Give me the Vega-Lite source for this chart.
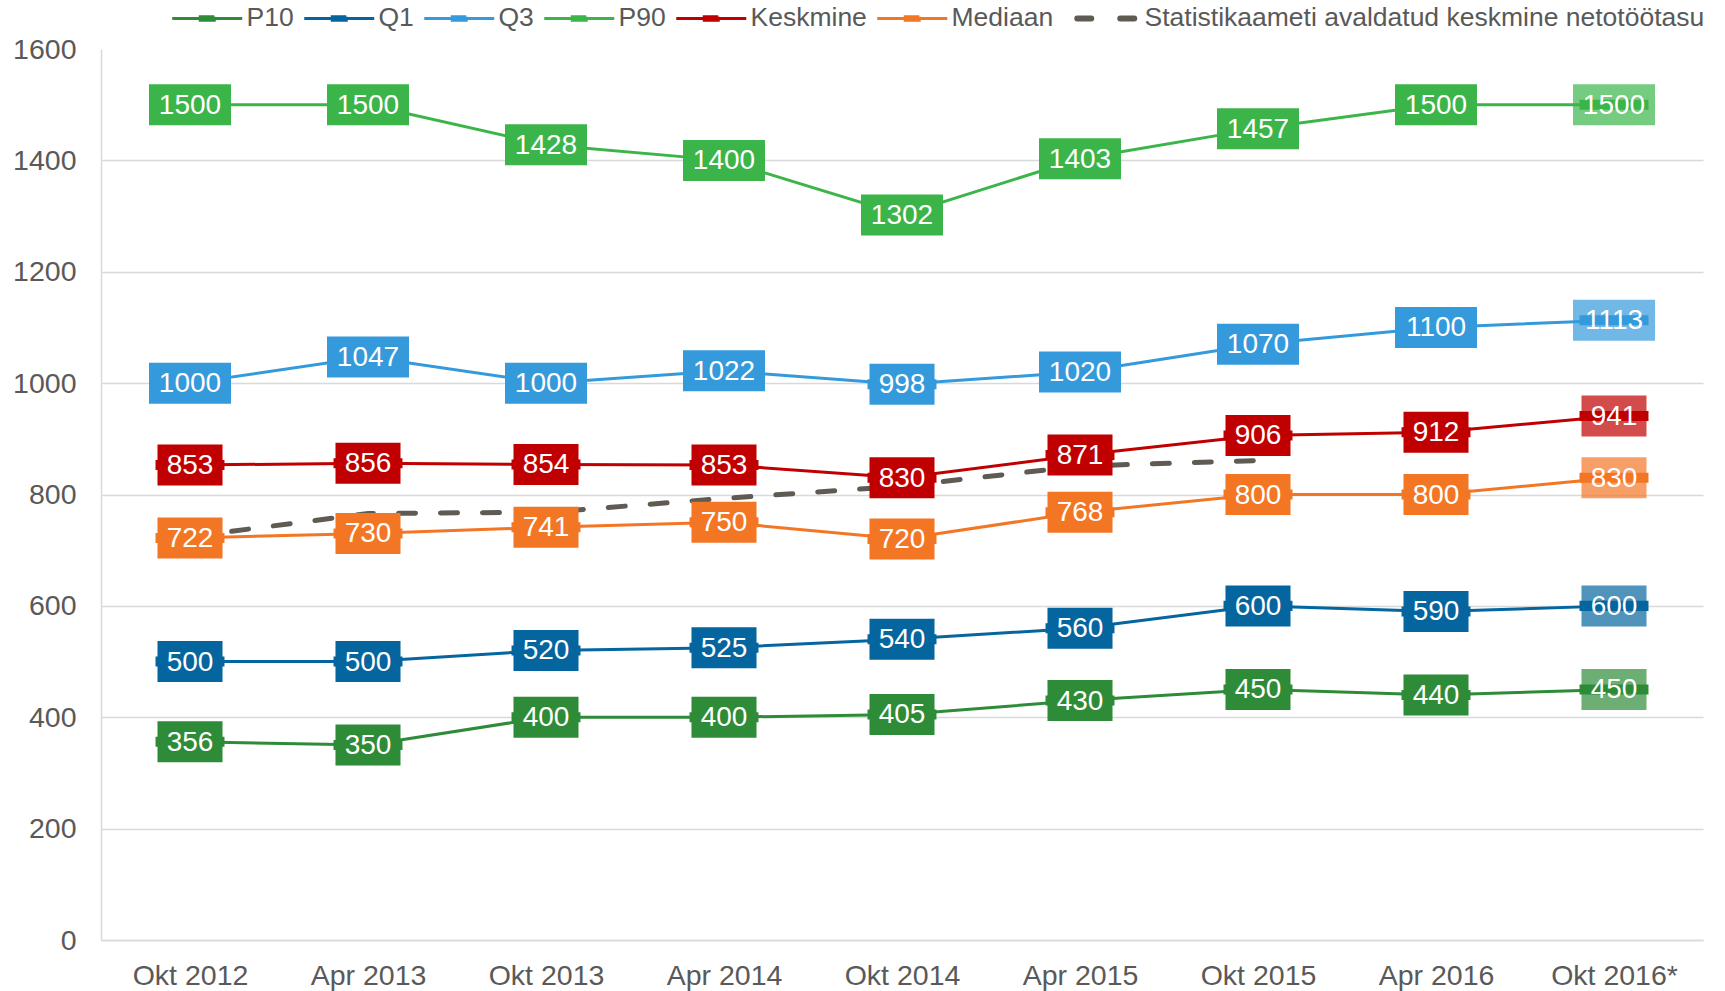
{
  "$schema": "https://vega.github.io/schema/vega-lite/v6.json",
  "width": 1602,
  "height": 891,
  "autosize": {"type": "none"},
  "padding": {"left": 101, "top": 49, "right": 22, "bottom": 51},
  "background": "white",
  "config": {
    "font": "Liberation Sans",
    "view": {"stroke": null}
  },
  "data": {
    "values": [
      {"period": "Okt 2012", "series": "P10", "value": 356},
      {"period": "Apr 2013", "series": "P10", "value": 350},
      {"period": "Okt 2013", "series": "P10", "value": 400},
      {"period": "Apr 2014", "series": "P10", "value": 400},
      {"period": "Okt 2014", "series": "P10", "value": 405},
      {"period": "Apr 2015", "series": "P10", "value": 430},
      {"period": "Okt 2015", "series": "P10", "value": 450},
      {"period": "Apr 2016", "series": "P10", "value": 440},
      {"period": "Okt 2016*", "series": "P10", "value": 450},
      {"period": "Okt 2012", "series": "Q1", "value": 500},
      {"period": "Apr 2013", "series": "Q1", "value": 500},
      {"period": "Okt 2013", "series": "Q1", "value": 520},
      {"period": "Apr 2014", "series": "Q1", "value": 525},
      {"period": "Okt 2014", "series": "Q1", "value": 540},
      {"period": "Apr 2015", "series": "Q1", "value": 560},
      {"period": "Okt 2015", "series": "Q1", "value": 600},
      {"period": "Apr 2016", "series": "Q1", "value": 590},
      {"period": "Okt 2016*", "series": "Q1", "value": 600},
      {"period": "Okt 2012", "series": "Q3", "value": 1000},
      {"period": "Apr 2013", "series": "Q3", "value": 1047},
      {"period": "Okt 2013", "series": "Q3", "value": 1000},
      {"period": "Apr 2014", "series": "Q3", "value": 1022},
      {"period": "Okt 2014", "series": "Q3", "value": 998},
      {"period": "Apr 2015", "series": "Q3", "value": 1020},
      {"period": "Okt 2015", "series": "Q3", "value": 1070},
      {"period": "Apr 2016", "series": "Q3", "value": 1100},
      {"period": "Okt 2016*", "series": "Q3", "value": 1113},
      {"period": "Okt 2012", "series": "P90", "value": 1500},
      {"period": "Apr 2013", "series": "P90", "value": 1500},
      {"period": "Okt 2013", "series": "P90", "value": 1428},
      {"period": "Apr 2014", "series": "P90", "value": 1400},
      {"period": "Okt 2014", "series": "P90", "value": 1302},
      {"period": "Apr 2015", "series": "P90", "value": 1403},
      {"period": "Okt 2015", "series": "P90", "value": 1457},
      {"period": "Apr 2016", "series": "P90", "value": 1500},
      {"period": "Okt 2016*", "series": "P90", "value": 1500},
      {"period": "Okt 2012", "series": "Keskmine", "value": 853},
      {"period": "Apr 2013", "series": "Keskmine", "value": 856},
      {"period": "Okt 2013", "series": "Keskmine", "value": 854},
      {"period": "Apr 2014", "series": "Keskmine", "value": 853},
      {"period": "Okt 2014", "series": "Keskmine", "value": 830},
      {"period": "Apr 2015", "series": "Keskmine", "value": 871},
      {"period": "Okt 2015", "series": "Keskmine", "value": 906},
      {"period": "Apr 2016", "series": "Keskmine", "value": 912},
      {"period": "Okt 2016*", "series": "Keskmine", "value": 941},
      {"period": "Okt 2012", "series": "Mediaan", "value": 722},
      {"period": "Apr 2013", "series": "Mediaan", "value": 730},
      {"period": "Okt 2013", "series": "Mediaan", "value": 741},
      {"period": "Apr 2014", "series": "Mediaan", "value": 750},
      {"period": "Okt 2014", "series": "Mediaan", "value": 720},
      {"period": "Apr 2015", "series": "Mediaan", "value": 768},
      {"period": "Okt 2015", "series": "Mediaan", "value": 800},
      {"period": "Apr 2016", "series": "Mediaan", "value": 800},
      {"period": "Okt 2016*", "series": "Mediaan", "value": 830},
      {"period": "Okt 2012", "series": "Statistikaameti avaldatud keskmine netotöötasu", "value": 724},
      {"period": "Apr 2013", "series": "Statistikaameti avaldatud keskmine netotöötasu", "value": 766},
      {"period": "Okt 2013", "series": "Statistikaameti avaldatud keskmine netotöötasu", "value": 768},
      {"period": "Apr 2014", "series": "Statistikaameti avaldatud keskmine netotöötasu", "value": 793},
      {"period": "Okt 2014", "series": "Statistikaameti avaldatud keskmine netotöötasu", "value": 815},
      {"period": "Apr 2015", "series": "Statistikaameti avaldatud keskmine netotöötasu", "value": 851},
      {"period": "Okt 2015", "series": "Statistikaameti avaldatud keskmine netotöötasu", "value": 861}
    ]
  },
  "encoding": {
    "x": {
      "field": "period",
      "type": "ordinal",
      "sort": ["Okt 2012", "Apr 2013", "Okt 2013", "Apr 2014", "Okt 2014", "Apr 2015", "Okt 2015", "Apr 2016", "Okt 2016*"],
      "scale": {"type": "point", "padding": 0.5},
      "axis": {
        "title": null,
        "labelAngle": 0,
        "labelFontSize": 28.5,
        "labelColor": "#595959",
        "labelPadding": 21,
        "ticks": false,
        "domainColor": "#D9D9D9",
        "domainWidth": 1.5,
        "grid": false
      }
    },
    "y": {
      "field": "value",
      "type": "quantitative",
      "scale": {"domain": [0, 1600], "nice": false, "zero": true},
      "axis": {
        "title": null,
        "format": "d",
        "values": [0, 200, 400, 600, 800, 1000, 1200, 1400, 1600],
        "labelFontSize": 28.5,
        "labelColor": "#595959",
        "labelPadding": 25,
        "ticks": false,
        "domain": true,
        "domainColor": "#D9D9D9",
        "domainWidth": 1.5,
        "grid": true,
        "gridColor": "#D9D9D9",
        "gridWidth": 1.5,
        "gridOpacity": {"condition": {"test": "datum.value >= 1600", "value": 0}, "value": 1}
      }
    }
  },
  "layer": [
    {
      "transform": [{"filter": "datum.series !== 'Statistikaameti avaldatud keskmine netotöötasu'"}],
      "mark": {"type": "line", "strokeWidth": 3},
      "encoding": {
        "color": {
          "field": "series",
          "type": "nominal",
          "scale": {
            "domain": ["P10", "Q1", "Q3", "P90", "Keskmine", "Mediaan", "Statistikaameti avaldatud keskmine netotöötasu"],
            "range": ["#2E8B38", "#05659E", "#349ADB", "#3BB54A", "#C00000", "#F37625", "#5F5B52"]
          },
          "legend": {
            "title": null,
            "orient": "none",
            "legendX": 93,
            "legendY": -44,
            "direction": "horizontal",
            "symbolSize": 4900,
            "labelFontSize": 26.5,
            "labelColor": "#595959",
            "labelOffset": 26,
            "columnPadding": 4,
            "labelLimit": 1000,
            "encode": {
              "symbols": {
                "update": {
                  "shape": {"signal": "datum.value === 'Statistikaameti avaldatud keskmine netotöötasu' ? 'stroke' : 'M-1,0H1M-0.2,-0.05H0.2V0.05H-0.2Z'"},
                  "fill": {"signal": "datum.value === 'Statistikaameti avaldatud keskmine netotöötasu' ? 'transparent' : scale('color', datum.value)"},
                  "stroke": {"signal": "scale('color', datum.value)"},
                  "strokeWidth": {"signal": "datum.value === 'Statistikaameti avaldatud keskmine netotöötasu' ? 6 : 3"},
                  "strokeDash": {"signal": "datum.value === 'Statistikaameti avaldatud keskmine netotöötasu' ? [14, 29] : [1, 0]"},
                  "strokeDashOffset": {"signal": "datum.value === 'Statistikaameti avaldatud keskmine netotöötasu' ? -7 : 0"},
                  "strokeCap": {"signal": "datum.value === 'Statistikaameti avaldatud keskmine netotöötasu' ? 'round' : 'butt'"},
                  "opacity": {"value": 1}
                }
              }
            }
          }
        }
      }
    },
    {
      "transform": [{"filter": "datum.series === 'Statistikaameti avaldatud keskmine netotöötasu'"}],
      "mark": {"type": "line", "strokeWidth": 5, "strokeDash": [17, 25], "strokeCap": "round", "color": "#5F5B52"},
      "encoding": {}
    },
    {
      "transform": [{"filter": "datum.series !== 'Statistikaameti avaldatud keskmine netotöötasu'"}],
      "mark": {"type": "point", "filled": true, "opacity": 1, "strokeWidth": 0, "size": 6724, "shape": "M-0.841,-0.122H0.841V0.122H-0.841Z"},
      "encoding": {
        "fill": {
          "field": "series",
          "type": "nominal",
          "scale": {
            "domain": ["P10", "Q1", "Q3", "P90", "Keskmine", "Mediaan", "Statistikaameti avaldatud keskmine netotöötasu"],
            "range": ["#2E8B38", "#05659E", "#349ADB", "#3BB54A", "#C00000", "#F37625", "#5F5B52"]
          },
          "legend": null
        }
      }
    },
    {
      "transform": [{"filter": "datum.series !== 'Statistikaameti avaldatud keskmine netotöötasu'"}],
      "mark": {"type": "point", "filled": true, "strokeWidth": 0, "size": 6724},
      "encoding": {
        "fill": {
          "field": "series",
          "type": "nominal",
          "scale": {
            "domain": ["P10", "Q1", "Q3", "P90", "Keskmine", "Mediaan", "Statistikaameti avaldatud keskmine netotöötasu"],
            "range": ["#2E8B38", "#05659E", "#349ADB", "#3BB54A", "#C00000", "#F37625", "#5F5B52"]
          },
          "legend": null
        },
        "shape": {
          "condition": {"test": "datum.value >= 1000", "value": "M-1,-0.5H1V0.5H-1Z"},
          "value": "M-0.793,-0.5H0.793V0.5H-0.793Z"
        },
        "opacity": {
          "condition": {"test": "datum.period === 'Okt 2016*'", "value": 0.7},
          "value": 1
        }
      }
    },
    {
      "transform": [{"filter": "datum.series !== 'Statistikaameti avaldatud keskmine netotöötasu'"}],
      "mark": {"type": "text", "color": "white", "fontSize": 28, "baseline": "middle", "align": "center", "dy": 1},
      "encoding": {
        "text": {"field": "value", "type": "quantitative", "format": "d"}
      }
    }
  ]
}
